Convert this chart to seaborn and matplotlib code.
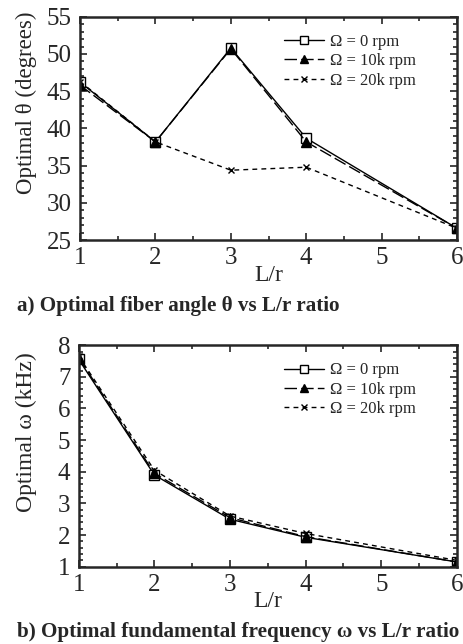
import matplotlib
matplotlib.use("Agg")
import matplotlib.pyplot as plt
import seaborn as sns
import numpy as np
import pandas as pd
from matplotlib.ticker import MultipleLocator

L_r = [1, 2, 3, 4, 6]
series_labels = ["Ω = 0 rpm", "Ω = 10k rpm", "Ω = 20k rpm"]

theta_0 = [46.2, 38.2, 50.8, 38.7, 26.6]
theta_10k = [45.8, 38.2, 50.7, 38.2, 26.6]
theta_20k = [46.3, 38.2, 34.4, 34.8, 26.6]

omega_0 = [7.55, 3.90, 2.50, 1.93, 1.15]
omega_10k = [7.60, 3.95, 2.55, 1.95, 1.15]
omega_20k = [7.65, 4.05, 2.60, 2.05, 1.20]

sns.set_style("ticks")
plt.rcParams['font.family'] = ['Liberation Serif', 'DejaVu Serif']
plt.rcParams['mathtext.fontset'] = 'stix'

fig = plt.figure(figsize=(4.63, 6.44), dpi=100)
ax1 = fig.add_axes([0.173, 0.627, 0.814, 0.347])
ax2 = fig.add_axes([0.170, 0.120, 0.817, 0.344])

styles = [
    dict(marker="s", markerfacecolor="white", markersize=7, dashes=None),
    dict(marker="^", markerfacecolor="black", markersize=7, dashes=(9, 3)),
    dict(marker="x", markerfacecolor="black", markersize=5, dashes=(3.5, 3)),
]

def draw(ax, ys):
    for y, lab, st in zip(ys, series_labels, styles):
        df = pd.DataFrame({"L/r": L_r, "v": y})
        sns.lineplot(data=df, x="L/r", y="v", ax=ax, color="black", lw=1.0,
                     label=lab, marker=st["marker"],
                     markerfacecolor=st["markerfacecolor"],
                     markeredgecolor="black", markersize=st["markersize"],
                     markeredgewidth=1.0)
        ln = ax.lines[-1]
        if st["dashes"] is not None:
            ln.set_dashes(st["dashes"])
    ax.legend(loc="upper right", frameon=False, fontsize=12, handlelength=2.4,
              handletextpad=0.35, labelspacing=0.2, bbox_to_anchor=(0.93, 0.99),
              markerscale=0.8)
    ax.set_xlim(1, 6)
    ax.xaxis.set_major_locator(MultipleLocator(1))
    ax.xaxis.set_minor_locator(MultipleLocator(0.5))
    ax.tick_params(which="both", direction="in", top=True, right=True, labelsize=18, width=1.2)
    ax.tick_params(which="major", length=5)
    ax.tick_params(which="minor", length=3)
    ax.tick_params(axis="x", pad=5)
    ax.tick_params(axis="y", pad=6)
    for s in ax.spines.values():
        s.set_linewidth(1.8)
        s.set_visible(True)
    ax.set_xlabel("L/r", fontsize=17, labelpad=-3)

draw(ax1, [theta_0, theta_10k, theta_20k])
ax1.set_ylim(25, 55)
ax1.yaxis.set_major_locator(MultipleLocator(5))
ax1.yaxis.set_minor_locator(MultipleLocator(1))
ax1.set_ylabel("Optimal θ (degrees)", fontsize=16.5)
ax1.yaxis.set_label_coords(-0.115, 0.617)

draw(ax2, [omega_0, omega_10k, omega_20k])
ax2.set_ylim(1, 8)
ax2.yaxis.set_major_locator(MultipleLocator(1))
ax2.yaxis.set_minor_locator(MultipleLocator(0.2))
ax2.set_ylabel("Optimal ω (kHz)", fontsize=17)
ax2.yaxis.set_label_coords(-0.111, 0.608)

fig.text(0.037, 0.525, "a) Optimal fiber angle θ vs L/r ratio", fontsize=15.2,
         fontweight="bold", va="center", ha="left")
fig.text(0.037, 0.019, "b) Optimal fundamental frequency ω vs L/r ratio", fontsize=15.2,
         fontweight="bold", va="center", ha="left")

fig.savefig("out.png", dpi=100)
